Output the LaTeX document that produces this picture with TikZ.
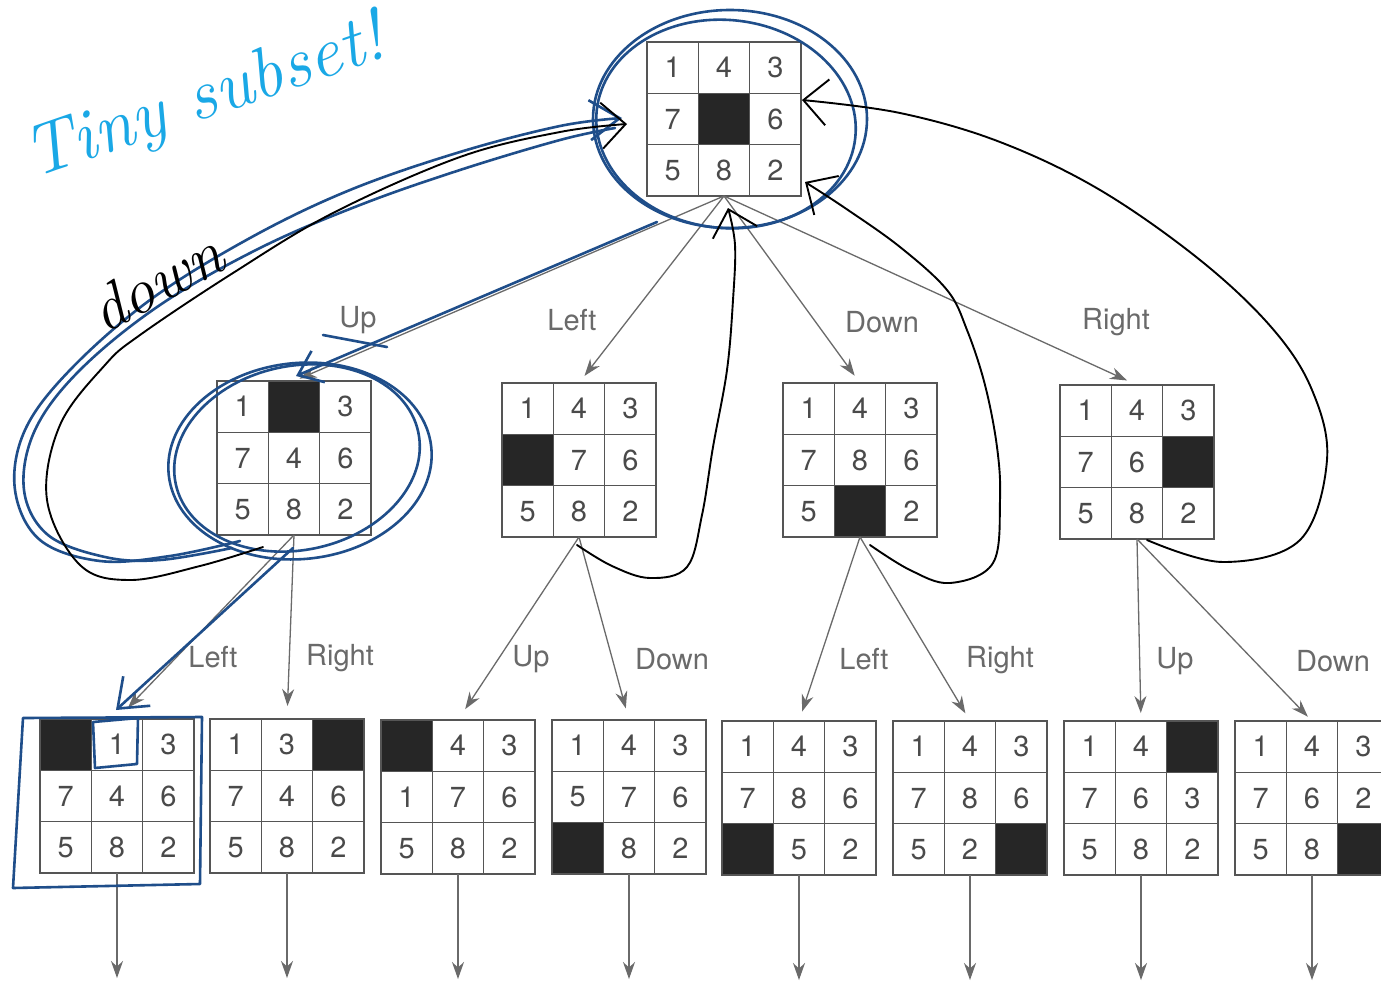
\documentclass[tikz,border=0pt]{standalone}
\usepackage{fontspec}
\setsansfont{TeX Gyre Heros}
\usetikzlibrary{arrows.meta,calc}
\definecolor{ink}{HTML}{1F4E8A}
\definecolor{cyanink}{HTML}{1AA8E6}
\definecolor{gridgray}{HTML}{555555}
\definecolor{edgegray}{HTML}{6A6A6A}
\definecolor{tilegray}{HTML}{4A4A4A}
\def\cell{51.33}

% one 8-puzzle board: name, left, top, nine entries (0 = blank square)
\newcommand\eightboard[4]{%
  \foreach \v [count=\k from 0] in {#4}{%
    \pgfmathtruncatemacro\col{mod(\k,3)}%
    \pgfmathtruncatemacro\row{div(\k,3)}%
    \ifnum\v=0
      \fill[blank] ({#2+\col*\cell},{#3+\row*\cell}) rectangle ++(\cell,\cell);
    \else
      \node[tile] (#1-\k) at ({#2+(\col+0.5)*\cell},{#3+(\row+0.5)*\cell}) {\v};
    \fi
  }
  \draw[gridline] ({#2+\cell},#3) -- ++(0,3*\cell) ({#2+2*\cell},#3) -- ++(0,3*\cell)
     (#2,{#3+\cell}) -- ++(3*\cell,0) (#2,{#3+2*\cell}) -- ++(3*\cell,0);
  \node[board] (#1) at ({#2+1.5*\cell},{#3+1.5*\cell}) {};
}

\tikzset{
  board/.style={draw=gridgray, line width=1.8pt, minimum size=154pt, inner sep=0pt, outer sep=0pt, rectangle},
  gridline/.style={draw=gridgray, line width=1.3pt},
  blank/.style={fill=black!85},
  tile/.style={font=\sffamily\fontsize{29}{29}\selectfont, text=tilegray, inner sep=0pt},
  move/.style={draw=edgegray, line width=1.3pt, -{Stealth[length=17pt,width=12pt]}},
  movelabel/.style={font=\sffamily\fontsize{29}{29}\selectfont, text=edgegray, inner sep=0pt},
  blueink/.style={draw=ink, line width=2.6pt, line cap=round, line join=round},
  blackink/.style={draw=black, line width=1.9pt, line cap=round, line join=round},
  handtip/.style={-{Straight Barb[length=24pt,width=46pt]}},
  note/.style={inner sep=0pt, font=\itshape\fontsize{#1}{#1}\selectfont}
}

\begin{document}
\begin{tikzpicture}[x=1pt,y=-1pt]
\useasboundingbox (0,0) rectangle (1381,983);
\fill[white] (0,0) rectangle (1381,983);

% ---- boards ----
\eightboard{R}{647}{42}{1,4,3,7,0,6,5,8,2}
\eightboard{A}{217}{381}{1,0,3,7,4,6,5,8,2}
\eightboard{B}{502}{383}{1,4,3,0,7,6,5,8,2}
\eightboard{C}{783}{383}{1,4,3,7,8,6,5,0,2}
\eightboard{D}{1060}{385}{1,4,3,7,6,0,5,8,2}
\eightboard{L1}{40}{719}{0,1,3,7,4,6,5,8,2}
\eightboard{L2}{210}{719}{1,3,0,7,4,6,5,8,2}
\eightboard{L3}{381}{720}{0,4,3,1,7,6,5,8,2}
\eightboard{L4}{552}{720}{1,4,3,5,7,6,0,8,2}
\eightboard{L5}{722}{721}{1,4,3,7,8,6,0,5,2}
\eightboard{L6}{893}{721}{1,4,3,7,8,6,5,2,0}
\eightboard{L7}{1064}{721}{1,4,0,7,6,3,5,8,2}
\eightboard{L8}{1235}{721}{1,4,3,7,6,2,5,8,0}

% ---- moves from the root ----
\draw[move, shorten >=6pt] (R.south) -- (A.north);
\draw[move, shorten >=9pt] (R.south) -- (B.north);
\draw[move, shorten >=9pt] (R.south) -- (C.north);
\draw[move, shorten >=11pt] (R.south) -- (D.north);
\node[movelabel] (tUp)    at (358,320) {Up};
\node[movelabel] (tLeft)  at (572,320) {Left};
\node[movelabel] (tDown)  at (882,322) {Down};
\node[movelabel] (tRight) at (1116,322) {Right};

% ---- second level moves ----
\draw[move, shorten >=16pt] (A.south) -- (L1.north);
\draw[move, shorten >=13pt] (A.south) -- (L2.north);
\draw[move, shorten >=13pt] (B.south) -- (L3.north);
\draw[move, shorten >=12pt] (B.south) -- (L4.north);
\draw[move, shorten >=10pt] (C.south) -- (L5.north);
\draw[move, shorten >=9pt]  (C.south) -- (L6.north);
\draw[move, shorten >=8pt]  (D.south) -- (L7.north);
\draw[move, shorten >=6pt]  (D.south) -- (L8.north);
\node[movelabel] (aLeft)  at (213,657) {Left};
\node[movelabel] (aRight) at (340,658) {Right};
\node[movelabel] (bUp)    at (531,659) {Up};
\node[movelabel] (bDown)  at (672,659) {Down};
\node[movelabel] (cLeft)  at (864,659) {Left};
\node[movelabel] (cRight) at (1000,660) {Right};
\node[movelabel] (dUp)    at (1175,661) {Up};
\node[movelabel] (dDown)  at (1333,661) {Down};

% ---- continuation arrows below the last row ----
\foreach \b in {L1,L2,L3,L4,L5,L6,L7,L8}{
  \coordinate (\b-out) at ($(\b.south)+(0,105)$);
  \draw[move] (\b.south) -- (\b-out);
}

% ---- blue ink: circled states and the chosen path ----
\draw[blueink] (730,119) ellipse [x radius=137pt, y radius=109pt];
\draw[blueink] (726,124) ellipse [x radius=130pt, y radius=104pt, rotate=-6];
\draw[blueink] (300,461) ellipse [x radius=132pt, y radius=98pt, rotate=6];
\draw[blueink] (297,458) ellipse [x radius=124pt, y radius=92pt, rotate=12];
\draw[blueink] (23,718) -- (202,717) -- (200,884) -- (13,888) -- cycle;
\draw[blueink] (93,722) -- (138,718) -- (137,764) -- (95,768) -- cycle;
\draw[blueink, -{Straight Barb[length=22pt,width=34pt]}] (R.south west) ++(10,26) -- (296,376);
\draw[blueink] (323,335) -- (387,347);
\draw[blueink, -{Straight Barb[length=26pt,width=40pt]}] (A.south) ++(-1,13) -- (116,710);
\draw[blueink, -{Straight Barb[length=30pt,width=40pt]}] plot[smooth, tension=0.6] coordinates {
  (240,541) (170,556) (100,561) (40,540) (15,490) (25,430) (70,370) (150,300)
  (250,238) (350,190) (460,152) (560,126) (622,118)};
\draw[blueink] plot[smooth, tension=0.6] coordinates {
  (232,548) (160,560) (105,557) (48,535) (24,490) (35,430) (80,370) (160,305)
  (260,248) (360,205) (460,170) (560,140) (615,128)};

% ---- black ink: the return moves ----
\draw[blackink, handtip] plot[smooth, tension=0.6] coordinates {
  (263,547) (200,566) (130,580) (80,565) (47,500) (60,425) (105,365) (140,335)
  (233,273) (333,213) (460,157) (560,132) (627,124)};
\draw[blackink, handtip] plot[smooth, tension=0.6] coordinates {
  (577,545) (612,566) (650,578) (687,567) (702,515) (713,447) (727,370) (733,300)
  (735,245) (728,208)};
\draw[blackink, handtip] plot[smooth, tension=0.6] coordinates {
  (870,545) (910,570) (950,583) (993,563) (1000,500) (997,447) (985,385) (967,330)
  (947,290) (900,247) (845,208) (805,182)};
\draw[blackink, handtip] plot[smooth, tension=0.6] coordinates {
  (1147,540) (1223,562) (1300,540) (1327,460) (1312,390) (1272,328) (1200,260)
  (1100,190) (1000,142) (900,113) (802,100)};

% ---- handwritten notes ----
\node[note=72, text=cyanink, rotate=19] (tiny) at (205,100) {Tiny subset!};
\node[note=64, text=black, rotate=28] (down) at (156,282) {down};
\end{tikzpicture}
\end{document}
